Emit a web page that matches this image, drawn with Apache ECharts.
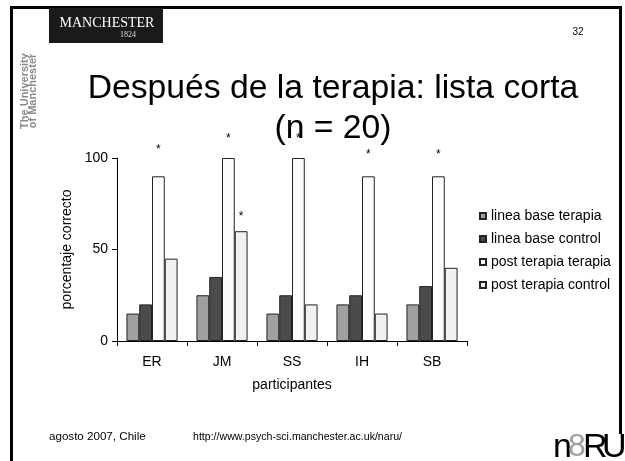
<!DOCTYPE html>
<html>
<head>
<meta charset="utf-8">
<script src="https://cdn.jsdelivr.net/npm/echarts@6/dist/echarts.min.js"></script>
<style>
  html, body { margin: 0; padding: 0; background: #fff; }
  #chart { width: 625px; height: 461px; }
</style>
</head>
<body>
<div id="chart"></div>
<script>
// Participants and correct-percentage scores per condition
const participants = ['ER', 'JM', 'SS', 'IH', 'SB'];
const baselineTherapy = [15, 25, 15, 20, 20];
const baselineControl = [20, 35, 25, 25, 30];
const postTherapyTherapy = [90, 100, 100, 90, 90];
const postTherapyControl = [45, 60, 20, 15, 40];
// Height (in axis units) of the significance asterisks; null = no asterisk
const starsPostTherapy = [105.5, 111.5, 111.5, 102.7, 102.7];
const starsPostControl = [null, 69, null, null, null];
const yTicks = [0, 50, 100];

const FONT = '"Liberation Sans", Arial, sans-serif';
const NARROW = '"Liberation Sans Narrow", "Liberation Sans", sans-serif';
const GRID = { left: 117, right: 158, top: 158, bottom: 120 };
const PX_PER_UNIT = (461 - GRID.top - GRID.bottom) / (yTicks[yTicks.length - 1] - yTicks[0]);

function withStars(values, stars) {
  return values.map((v, i) => {
    if (stars[i] == null) return v;
    return {
      value: v,
      label: {
        show: true,
        position: 'top',
        formatter: '*',
        distance: (stars[i] - v) * PX_PER_UNIT - 8,
        color: '#000',
        fontSize: 12,
        fontFamily: FONT
      }
    };
  });
}

function barSeries(name, data, color) {
  return {
    name: name,
    type: 'bar',
    data: data,
    barGap: '0%',
    barCategoryGap: '27%',
    itemStyle: { color: color, borderColor: '#222', borderWidth: 1 },
    emphasis: { disabled: true },
    animation: false
  };
}

const chart = echarts.init(document.getElementById('chart'), null, { renderer: 'canvas' });

chart.setOption({
  backgroundColor: '#fff',
  animation: false,
  grid: GRID,
  legend: {
    orient: 'vertical',
    left: 479,
    top: 209,
    padding: 0,
    itemWidth: 6,
    itemHeight: 6,
    itemGap: 9,
    icon: 'rect',
    textStyle: { fontFamily: FONT, fontSize: 14, color: '#000' },
    data: ['linea base terapia', 'linea base control', 'post terapia terapia', 'post terapia control']
  },
  xAxis: {
    type: 'category',
    data: participants,
    name: 'participantes',
    nameLocation: 'middle',
    nameGap: 37,
    nameTextStyle: { fontFamily: FONT, fontSize: 14, color: '#000' },
    axisLine: { lineStyle: { color: '#000', width: 1 } },
    axisTick: { show: true, length: 5, lineStyle: { color: '#000' } },
    axisLabel: { fontFamily: FONT, fontSize: 14, color: '#000', margin: 14 }
  },
  yAxis: {
    type: 'value',
    min: yTicks[0],
    max: yTicks[yTicks.length - 1],
    interval: yTicks[1] - yTicks[0],
    name: 'porcentaje correcto',
    nameLocation: 'middle',
    nameGap: 33,
    nameTextStyle: { fontFamily: FONT, fontSize: 14, color: '#000' },
    axisLine: { show: true, lineStyle: { color: '#000', width: 1 } },
    axisTick: { show: true, length: 5, lineStyle: { color: '#000' } },
    axisLabel: { fontFamily: FONT, fontSize: 14, color: '#000', margin: 9 },
    splitLine: { show: false }
  },
  series: [
    barSeries('linea base terapia', baselineTherapy, '#a0a0a0'),
    barSeries('linea base control', baselineControl, '#4b4b4b'),
    barSeries('post terapia terapia', withStars(postTherapyTherapy, starsPostTherapy), '#fcfcfc'),
    barSeries('post terapia control', withStars(postTherapyControl, starsPostControl), '#f1f1f1')
  ],
  graphic: [
    // slide frame
    { type: 'polyline', shape: { points: [[11.5, 461], [11.5, 7.5], [620.5, 7.5], [620.5, 434]] },
      style: { stroke: '#000', lineWidth: 3, fill: null }, silent: true },
    // university logo block
    { type: 'rect', shape: { x: 49, y: 8, width: 114, height: 35 }, style: { fill: '#1a1a1a' } },
    { type: 'text', x: 107, y: 23, style: { text: 'MANCHESTER', fill: '#fff', font: '14px "Liberation Serif", serif', textAlign: 'center', textVerticalAlign: 'middle' } },
    { type: 'text', x: 128, y: 35, style: { text: '1824', fill: '#ddd', font: '8px "Liberation Serif", serif', textAlign: 'center', textVerticalAlign: 'middle' } },
    // vertical university name
    { type: 'text', x: 29, y: 91, rotation: Math.PI / 2,
      style: { text: 'The University\nof Manchester', fill: '#8a8a8a', font: 'bold 11px ' + NARROW, textAlign: 'center', textVerticalAlign: 'middle', lineHeight: 8 } },
    // slide number
    { type: 'text', x: 578, y: 32, style: { text: '32', fill: '#000', font: '10px ' + FONT, textAlign: 'center', textVerticalAlign: 'middle' } },
    // title
    { type: 'text', x: 333, y: 89, style: { text: 'Después de la terapia: lista corta', fill: '#000', font: '33.7px ' + FONT, textAlign: 'center', textVerticalAlign: 'middle' } },
    { type: 'text', x: 333, y: 129, style: { text: '(n = 20)', fill: '#000', font: '33.7px ' + FONT, textAlign: 'center', textVerticalAlign: 'middle' } },
    // footer
    { type: 'text', x: 49, y: 437, style: { text: 'agosto 2007, Chile', fill: '#000', font: '11.6px ' + FONT, textAlign: 'left', textVerticalAlign: 'middle' } },
    { type: 'text', x: 193, y: 437, style: { text: 'http://www.psych-sci.manchester.ac.uk/naru/', fill: '#000', font: '10.6px ' + FONT, textAlign: 'left', textVerticalAlign: 'middle' } },
    // naru logo
    { type: 'text', x: 553, y: 431, style: { text: 'n', fill: '#000', font: '34px ' + NARROW, textAlign: 'left', textVerticalAlign: 'top' } },
    { type: 'text', x: 568, y: 431, style: { text: '8', fill: '#a0a0a0', font: '32px ' + NARROW, textAlign: 'left', textVerticalAlign: 'top' } },
    { type: 'text', x: 583, y: 431, style: { text: 'R', fill: '#000', font: '34px ' + NARROW, textAlign: 'left', textVerticalAlign: 'top' } },
    { type: 'text', x: 602, y: 431, style: { text: 'U', fill: '#000', font: '34px ' + NARROW, textAlign: 'left', textVerticalAlign: 'top' } }
  ]
});
</script>
</body>
</html>
